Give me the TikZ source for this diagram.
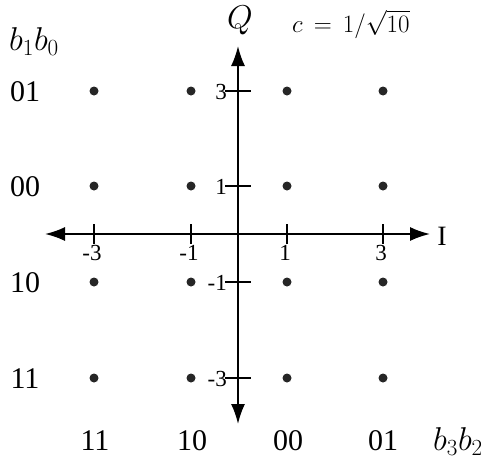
\RequirePackage{fix-cm}
\documentclass[tikz,border=0pt]{standalone}
\usepackage{fontspec}
\setmainfont{Liberation Serif}
\usetikzlibrary{arrows.meta}
\begin{document}
\begin{tikzpicture}[x=1pt,y=-1pt,
  dot/.style={circle,fill=black!85,inner sep=0pt,minimum size=9pt},
  axisline/.style={line width=1.8pt,-{Latex[length=20pt,width=14pt]}},
  tick/.style={line width=1.5pt},
  big/.style={font=\fontsize{30}{32}\selectfont,inner sep=0pt},
  mbig/.style={font=\fontsize{33}{35}\selectfont,inner sep=0pt},
  small/.style={font=\fontsize{23}{25}\selectfont,inner sep=0pt}]
\useasboundingbox (0,0) rectangle (481,466);
% axis end points
\coordinate (L) at (45,234);
\coordinate (R) at (430,234);
\coordinate (T) at (238,46);
\coordinate (B) at (238,424);
\coordinate (O) at (238,234);
\draw[axisline] (O) -- (R);
\draw[axisline] (O) -- (L);
\draw[axisline] (O) -- (T);
\draw[axisline] (O) -- (B);
% x ticks
\foreach \x/\lab/\n in {94/-3/a,191/-1/b,287/1/c,383/3/d}{
  \coordinate (xt\n1) at (\x,224);
  \coordinate (xt\n2) at (\x,244);
  \draw[tick] (xt\n1) -- (xt\n2);
  \node[small,anchor=north] (xl\n) at (\x-2,245) {\lab};
}
% y ticks
\foreach \y/\lab/\n in {91/3/a,186/1/b,282/-1/c,378/-3/d}{
  \coordinate (yt\n1) at (225,\y);
  \coordinate (yt\n2) at (251,\y);
  \draw[tick] (yt\n1) -- (yt\n2);
  \node[small,anchor=east] (yl\n) at (227,\y+1) {\lab};
}
% constellation points
\foreach \x/\i in {94/1,191/2,287/3,383/4}{
  \foreach \y/\j in {91/1,186/2,282/3,378/4}{
    \node[dot] (p\i\j) at (\x,\y) {};
  }
}
% labels
\node[mbig] (Q) at (240,20) {$Q$};
\node[small] (I) at (442,236) {\fontsize{28}{30}\selectfont I};
\node[font=\fontsize{25}{27}\selectfont,inner sep=0pt,anchor=base west] (c) at (292,32) {$c\,=\,1/\smash{\sqrt{10}}$};
\node[mbig] (b10) at (34,42) {$b_1b_0$};
\node[mbig] (b32) at (458,442) {$b_3b_2$};
\foreach \y/\lab/\n in {92/01/a,187/00/b,283/10/c,379/11/d}{
  \node[big] (r\n) at (25,\y) {\lab};
}
\foreach \x/\lab/\n in {95/11/a,192/10/b,288/00/c,383/01/d}{
  \node[big] (cl\n) at (\x,441) {\lab};
}
\end{tikzpicture}
\end{document}
